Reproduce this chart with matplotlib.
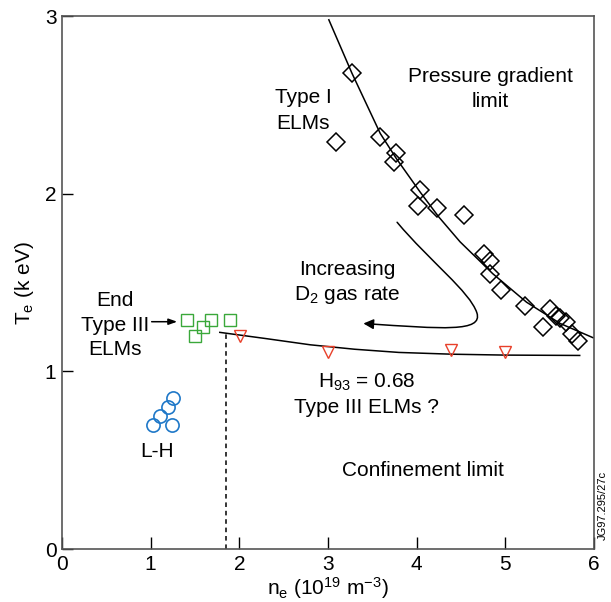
import matplotlib.pyplot as plt
from matplotlib.patches import FancyArrowPatch
from matplotlib.path import Path

plt.rcParams['font.family'] = ['Liberation Sans', 'DejaVu Sans']
plt.rcParams['mathtext.default'] = 'regular'

# Type I ELMs (open diamonds)
type1_ne = [3.27, 3.09, 3.59, 3.77, 3.74, 4.04, 4.02, 4.23, 4.53, 4.76, 4.83,
            4.83, 4.95, 5.22, 5.50, 5.57, 5.62, 5.68, 5.43, 5.75, 5.82]
type1_te = [2.68, 2.29, 2.32, 2.23, 2.18, 2.02, 1.93, 1.92, 1.88, 1.66, 1.62,
            1.55, 1.46, 1.37, 1.35, 1.31, 1.30, 1.28, 1.25, 1.21, 1.17]

# pressure gradient limit curve
pg_ne = [3.01, 3.27, 3.59, 3.77, 4.04, 4.25, 4.49, 4.86, 5.24, 5.62, 5.99]
pg_te = [2.98, 2.68, 2.34, 2.20, 2.01, 1.87, 1.73, 1.55, 1.39, 1.27, 1.19]

# End of Type III ELMs (green squares)
end3_ne = [1.41, 1.68, 1.90, 1.59, 1.50]
end3_te = [1.29, 1.29, 1.29, 1.25, 1.20]

# L-H transition (blue circles)
lh_ne = [1.25, 1.20, 1.10, 1.03, 1.24]
lh_te = [0.85, 0.80, 0.75, 0.70, 0.70]

# Type III ELMs (red triangles)
t3_ne = [2.01, 3.00, 4.39, 5.00]
t3_te = [1.20, 1.11, 1.12, 1.11]

# confinement limit line
cl_ne = [1.78, 2.3, 2.8, 3.3, 3.8, 4.4, 5.0, 5.84]
cl_te = [1.22, 1.185, 1.15, 1.125, 1.107, 1.097, 1.092, 1.09]

fig = plt.figure(figsize=(6.11, 6.02), dpi=100)
ax = fig.add_axes([0.1015, 0.088, 0.8705, 0.885])

ax.plot(pg_ne, pg_te, color='black', lw=1.1)
ax.plot(cl_ne, cl_te, color='black', lw=1.1)
ax.plot([1.85, 1.85], [0, 1.215], color='black', lw=1.1, ls=(0, (3, 2.5)))

ax.plot(type1_ne, type1_te, ls='none', marker='D', ms=9.5, mfc='none',
        mec='black', mew=1.1)
ax.plot(end3_ne, end3_te, ls='none', marker='s', ms=9, mfc='none',
        mec='#3aa83a', mew=1.0)
ax.plot(lh_ne, lh_te, ls='none', marker='o', ms=9.5, mfc='none',
        mec='#1f78c8', mew=1.2)
ax.plot(t3_ne, t3_te, ls='none', marker='v', ms=9, mfc='none',
        mec='#e8402a', mew=1.0)

# curved arrow "Increasing D2 gas rate"
verts = [(3.78, 1.84), (4.15, 1.62), (4.60, 1.45), (4.68, 1.33),
         (4.75, 1.22), (4.30, 1.24), (3.40, 1.27)]
codes = [Path.MOVETO, Path.CURVE4, Path.CURVE4, Path.CURVE4,
         Path.CURVE4, Path.CURVE4, Path.CURVE4]
arrow = FancyArrowPatch(path=Path(verts, codes), arrowstyle='-|>,head_length=6,head_width=3',
                        color='black', lw=1.1, mutation_scale=1)
ax.add_patch(arrow)

ax.annotate('', xy=(1.33, 1.28), xytext=(0.98, 1.28),
            arrowprops=dict(arrowstyle='-|>,head_length=0.5,head_width=0.18',
                            color='black', lw=1.1))

fs = 15
ls_ = 1.42
ax.text(4.83, 2.59, 'Pressure gradient\nlimit', ha='center', va='center', fontsize=fs,
        linespacing=ls_)
ax.text(2.72, 2.47, 'Type I\nELMs', ha='center', va='center', fontsize=fs, linespacing=ls_)
ax.text(3.22, 1.50, 'Increasing\nD$_2$ gas rate', ha='center', va='center', fontsize=fs,
        linespacing=1.3)
ax.text(0.60, 1.26, 'End\nType III\nELMs', ha='center', va='center', fontsize=fs,
        linespacing=1.38)
ax.text(3.44, 0.87, 'H$_{93}$ = 0.68\nType III ELMs ?', ha='center', va='center',
        fontsize=fs, linespacing=1.3)
ax.text(1.07, 0.55, 'L-H', ha='center', va='center', fontsize=fs)
ax.text(4.07, 0.44, 'Confinement limit', ha='center', va='center', fontsize=fs)

fig.text(0.986, 0.161, 'JG97.295/27c', rotation=90, ha='center', va='center', fontsize=8)

ax.set_xlim(0, 6)
ax.set_ylim(0, 3)
ax.set_xticks([0, 1, 2, 3, 4, 5, 6])
ax.set_yticks([0, 1, 2, 3])
ax.tick_params(direction='in', length=8, width=1, labelsize=fs, top=False, right=False,
               pad=4)
ax.tick_params(axis='x', length=9, pad=4)
for s in ax.spines.values():
    s.set_color('#555555')
    s.set_linewidth(1.2)

ax.set_xlabel('n$_e$ (10$^{19}$ m$^{-3}$)', fontsize=fs, labelpad=1)
ax.set_ylabel('T$_e$ (k eV)', fontsize=fs, labelpad=6)

fig.savefig('out.png', dpi=100)
